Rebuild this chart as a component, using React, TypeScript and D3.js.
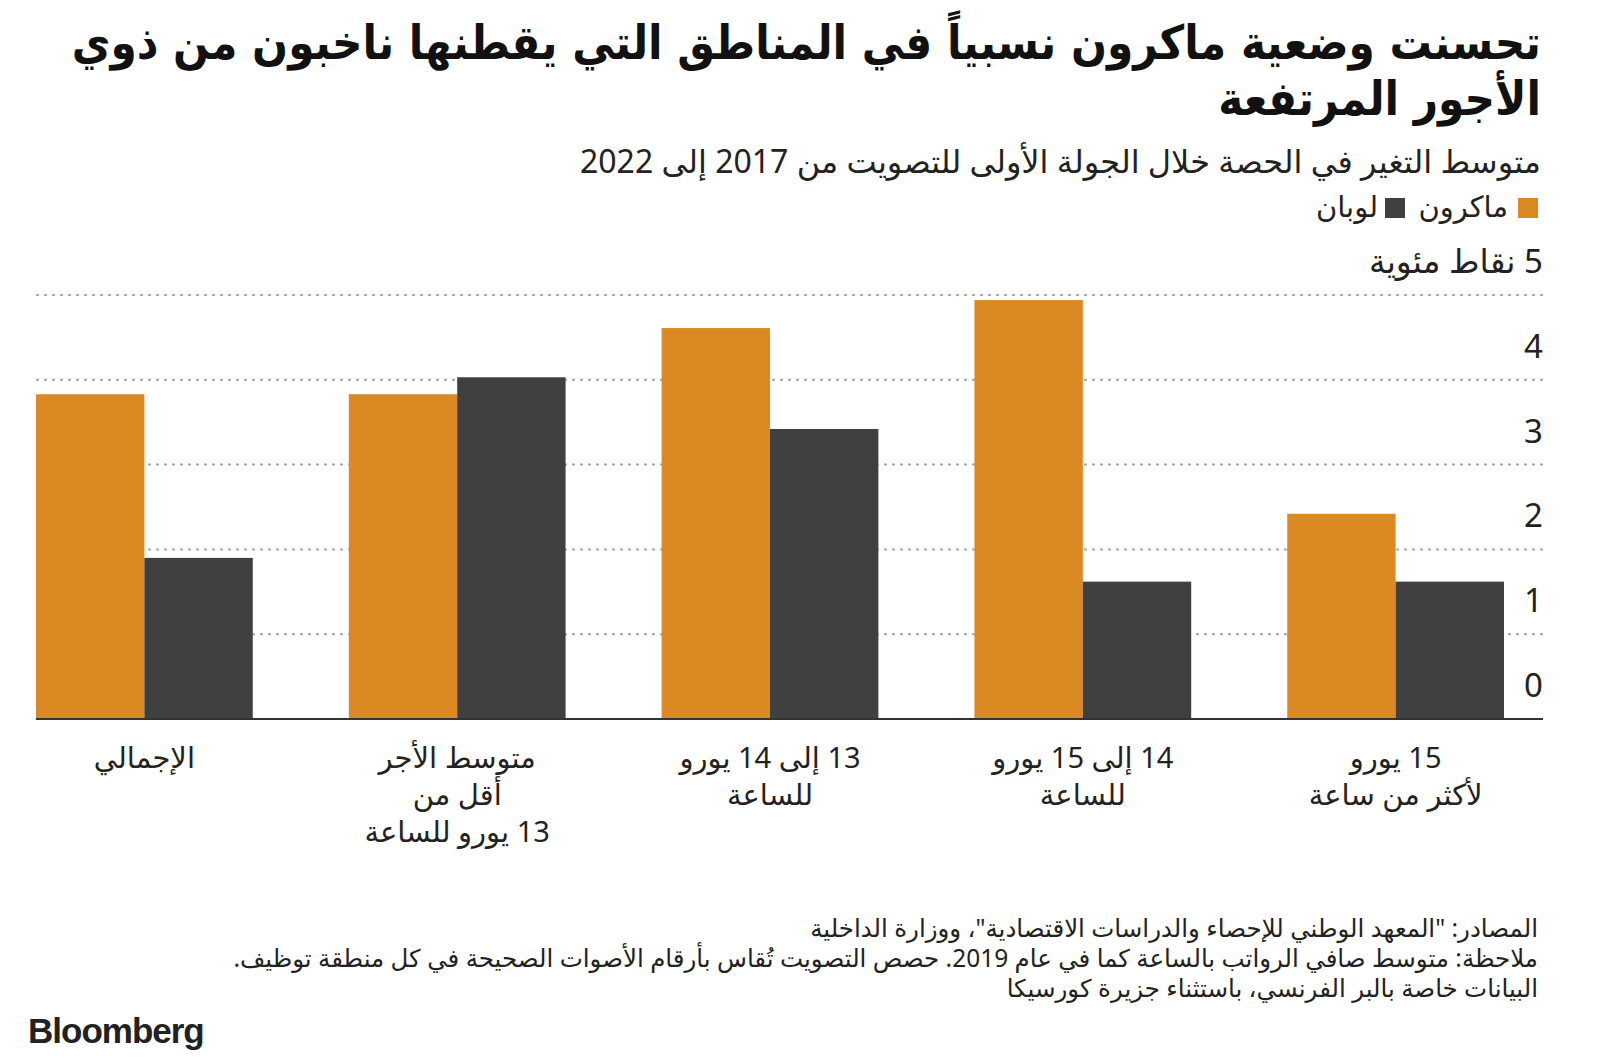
import React from 'react';
import * as d3 from 'd3';

const titleLines = [
  'تحسنت وضعية ماكرون نسبياً في المناطق التي يقطنها ناخبون من ذوي',
  'الأجور المرتفعة',
];
const subtitle = 'متوسط التغير في الحصة خلال الجولة الأولى للتصويت من 2017 إلى 2022';
const seriesNames = ['ماكرون', 'لوبان'];
const seriesColors = ['#DB8923', '#404040'];
const categories = ['total', 'lt13', '13to14', '14to15', 'gt15'];
const categoryLabels = [
  ['الإجمالي'],
  ['متوسط الأجر', 'أقل من', '13 يورو للساعة'],
  ['13 إلى 14 يورو', 'للساعة'],
  ['14 إلى 15 يورو', 'للساعة'],
  ['15 يورو', 'لأكثر من ساعة'],
];
const macronValues = [3.83, 3.83, 4.61, 4.94, 2.42];
const lepenValues = [1.9, 4.03, 3.42, 1.62, 1.62];
const yTicks = [0, 1, 2, 3, 4, 5];
const yUnit = 'نقاط مئوية';
const footnotes = [
  'المصادر: "المعهد الوطني للإحصاء والدراسات الاقتصادية"، ووزارة الداخلية',
  'ملاحظة: متوسط صافي الرواتب بالساعة كما في عام 2019. حصص التصويت تُقاس بأرقام الأصوات الصحيحة في كل منطقة توظيف.',
  'البيانات خاصة بالبر الفرنسي، باستثناء جزيرة كورسيكا',
];

const AR = '"Noto Sans", "DejaVu Sans", sans-serif';
const AR_COND = '"DejaVu Sans Condensed", "DejaVu Sans", sans-serif';

export default function App() {
  const W = 1600;
  const H = 1064;
  const plotLeft = 36;
  const barsRight = 1504;
  const gridRight = 1543;
  const y = d3.scaleLinear().domain([0, 5]).range([719, 295]);
  const x = d3
    .scaleBand<string>()
    .domain(categories)
    .range([plotLeft, barsRight])
    .paddingInner(0.307)
    .paddingOuter(0);
  const xs = d3
    .scaleBand<string>()
    .domain(['m', 'l'])
    .range([0, x.bandwidth()])
    .padding(0);
  const series = [macronValues, lepenValues];
  const keys = ['m', 'l'];

  return (
    <svg
      width={W}
      height={H}
      style={{ position: 'absolute', left: 0, top: 0, background: '#fff' }}
    >
      <rect x={0} y={0} width={W} height={H} fill="#fff" />
      {titleLines.map((t, i) => (
        <text
          key={i}
          x={1541}
          y={59 + i * 56}
          direction="rtl"
          textAnchor="start"
          fontFamily={AR_COND}
          fontWeight="bold"
          fontSize={47}
          fill="#111"
        >
          {t}
        </text>
      ))}
      <text
        x={1541}
        y={173}
        direction="rtl"
        textAnchor="start"
        fontFamily={AR}
        fontSize={32}
        fill="#222"
      >
        {subtitle}
      </text>
      {/* legend */}
      <rect x={1518} y={198} width={20} height={20} fill={seriesColors[0]} />
      <text x={1508} y={217} direction="rtl" textAnchor="start" fontFamily={AR} fontSize={29} fill="#222">
        {seriesNames[0]}
      </text>
      <rect x={1385} y={198} width={20} height={20} fill={seriesColors[1]} />
      <text x={1378} y={217} direction="rtl" textAnchor="start" fontFamily={AR} fontSize={29} fill="#222">
        {seriesNames[1]}
      </text>

      {/* gridlines */}
      {yTicks
        .filter((t) => t > 0)
        .map((t) => (
          <line
            key={t}
            x1={plotLeft}
            x2={gridRight}
            y1={y(t)}
            y2={y(t)}
            stroke="#a8a8a8"
            strokeWidth={2}
            strokeDasharray="3 5"
          />
        ))}
      {yTicks.map((t) => (
        <text
          key={t}
          x={gridRight}
          y={y(t) - 22}
          direction="rtl"
          textAnchor="start"
          fontFamily={AR}
          fontSize={33}
          fill="#222"
        >
          {t === 5 ? `${t} ${yUnit}` : `${t}`}
        </text>
      ))}

      {/* bars */}
      {categories.map((c, i) => (
        <g key={c} transform={`translate(${x(c)},0)`}>
          {series.map((vals, s) => (
            <rect
              key={s}
              x={xs(keys[s])}
              y={y(vals[i])}
              width={xs.bandwidth()}
              height={y(0) - y(vals[i])}
              fill={seriesColors[s]}
            />
          ))}
        </g>
      ))}
      <line x1={plotLeft} x2={gridRight} y1={y(0)} y2={y(0)} stroke="#333" strokeWidth={2} />

      {/* x labels */}
      {categories.map((c, i) =>
        categoryLabels[i].map((l, j) => (
          <text
            key={c + j}
            x={(x(c) as number) + x.bandwidth() / 2}
            y={768 + j * 37}
            direction="rtl"
            textAnchor="middle"
            fontFamily={AR}
            fontSize={29}
            fill="#222"
          >
            {l}
          </text>
        ))
      )}

      {/* footnotes */}
      {footnotes.map((f, i) => (
        <text
          key={i}
          x={1538}
          y={937 + i * 30}
          direction="rtl"
          textAnchor="start"
          fontFamily={AR}
          fontSize={24.5}
          fill="#222"
        >
          {f}
        </text>
      ))}
      <text
        x={28}
        y={1043}
        fontFamily='"Liberation Sans", Arial, sans-serif'
        fontWeight="bold"
        fontSize={35}
        letterSpacing={-1}
        fill="#222"
      >
        Bloomberg
      </text>
    </svg>
  );
}
